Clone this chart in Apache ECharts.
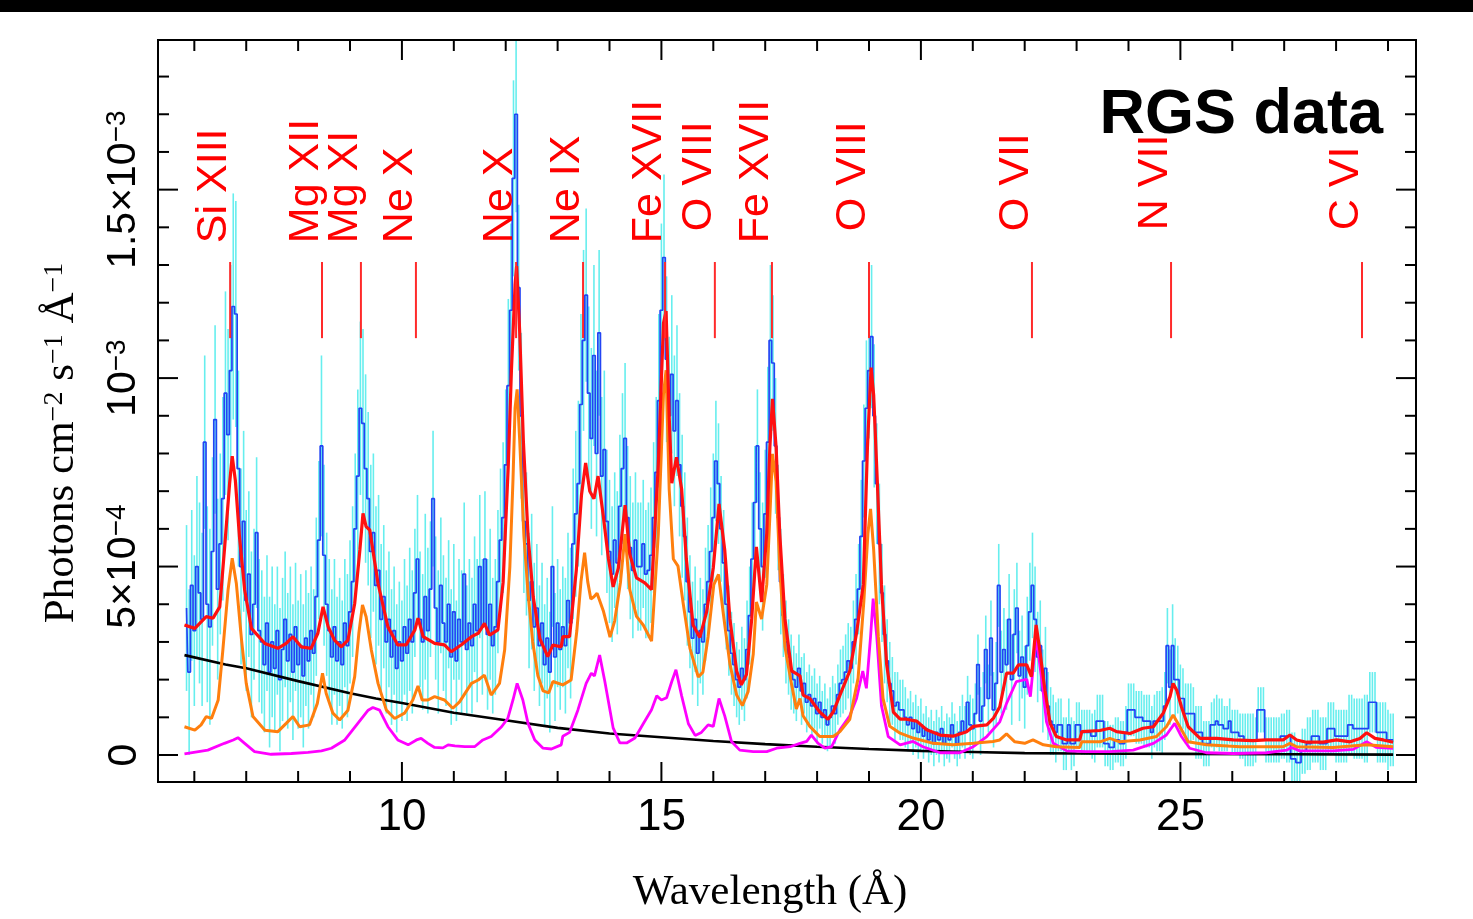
<!DOCTYPE html>
<html>
<head>
<meta charset="utf-8">
<script src="https://cdn.jsdelivr.net/npm/echarts@6/dist/echarts.min.js"></script>
<style>
  html, body { margin: 0; padding: 0; background: #ffffff; }
  #chart { width: 1473px; height: 919px; }
</style>
</head>
<body>
<div id="chart"></div>
<script>
// ---------------------------------------------------------------
// RGS spectrum: binned flux, error bars, fitted model and its parts.
// Flux units are 1e-4 photons cm^-2 s^-1 Å^-1, wavelength in Å.
// ---------------------------------------------------------------

// Binned data: first bin centre and bin width (Å)
const fluxStart = 5.85;
const fluxBin = 0.05;

// Observed flux per bin (one row = 1 Å)
const flux = [
  3.9,2.2,4.5,3.3,5.0,4.3,3.6,8.3,4.0,3.4,5.4,8.9,4.4,5.6,6.8,9.6,8.5,10.2,11.9,11.7,
  7.6,5.0,6.2,4.1,4.8,3.2,4.0,5.9,3.3,3.0,2.4,3.5,2.2,3.0,2.3,3.3,2.0,2.8,3.6,2.5,
  3.2,2.2,3.4,2.4,2.9,2.1,3.1,2.5,3.3,2.7,4.2,5.7,8.2,5.3,4.0,3.3,2.6,3.4,2.5,3.0,
  2.4,3.5,2.9,3.8,4.6,6.0,7.4,9.2,8.8,7.6,6.8,5.4,5.9,4.5,4.9,3.6,4.2,3.0,3.6,2.6,
  3.3,2.3,3.0,2.5,3.4,2.7,3.6,3.0,4.3,5.2,3.6,3.0,4.2,3.3,4.4,6.8,3.9,3.0,4.5,3.5,
  3.0,4.0,2.6,3.8,2.5,3.6,3.0,4.8,2.8,3.5,2.9,4.0,3.3,5.0,3.4,5.2,3.2,4.0,2.9,3.4,
  4.6,5.7,6.3,7.7,9.8,11.8,15.3,17.0,12.4,9.0,6.2,5.6,4.1,4.6,3.4,3.9,2.9,3.5,2.4,3.1,
  2.2,5.0,2.6,3.5,2.8,3.4,2.9,4.1,3.5,5.6,6.4,7.2,9.3,11.0,12.2,9.6,8.4,10.6,8.0,11.2,
  7.4,8.1,6.2,5.4,4.8,5.7,5.1,6.6,7.6,8.4,6.3,5.5,4.9,5.7,5.0,5.0,5.6,4.8,4.9,5.3,
  6.3,7.5,9.4,11.8,13.2,10.5,9.0,10.1,8.6,9.4,7.7,6.6,5.8,4.6,3.8,3.1,3.6,2.7,3.3,3.0,
  4.0,4.6,5.4,6.3,7.8,7.2,6.0,5.1,4.0,3.3,2.7,2.4,2.0,1.8,2.3,2.0,2.8,3.7,5.2,6.7,
  8.2,6.0,5.0,6.4,8.3,11.0,10.4,8.2,6.3,4.6,3.7,3.0,2.6,2.2,2.0,1.8,2.3,1.7,1.9,1.4,
  1.6,1.3,1.5,1.1,1.4,1.0,1.2,0.8,1.0,1.3,1.1,1.6,1.9,2.0,2.2,2.5,2.3,3.0,3.6,4.4,
  5.8,7.8,9.2,10.2,11.1,9.0,7.2,5.6,4.3,3.2,2.5,1.9,1.7,1.3,1.4,1.2,1.2,1.0,0.8,1.0,
  0.7,0.9,0.6,0.8,0.5,0.7,0.4,0.6,0.3,0.6,0.4,0.7,0.3,0.5,0.4,0.8,0.5,0.3,0.6,0.9,
  0.6,1.4,0.8,0.7,1.1,2.4,0.9,1.3,2.8,1.5,3.1,1.2,1.9,4.5,2.2,2.8,2.4,3.6,2.0,3.2,
  3.9,2.1,2.6,1.8,2.9,3.8,4.5,3.6,2.6,2.9,1.7,2.3,1.3,0.9,0.8,0.6,0.8,0.8,0.3,0.3,
  0.8,0.3,0.3,0.8,0.8,0.6,0.6,0.6,0.6,0.5,0.5,0.9,0.9,0.9,0.3,0.3,0.2,0.2,0.4,0.4,
  0.3,0.3,0.6,1.2,1.2,1.2,1.0,1.0,1.0,0.9,0.9,0.9,0.6,0.9,0.9,0.9,0.9,1.3,2.9,1.8,
  2.9,2.0,2.0,1.5,1.5,1.1,1.1,1.1,1.1,0.6,0.6,0.6,0.3,0.3,0.3,0.8,0.8,0.9,0.8,0.8,
  0.7,0.7,0.9,0.6,0.6,0.6,0.5,0.5,0.4,0.4,0.4,0.4,0.4,1.2,1.2,1.2,0.4,0.4,0.4,0.4,
  0.4,0.4,0.5,0.5,0.5,0.5,-0.1,-0.1,-0.2,-0.2,0.1,0.1,0.3,0.3,0.5,0.5,0.5,0.3,0.3,0.3,
  0.7,0.7,0.7,0.5,0.5,0.5,0.5,0.5,0.8,0.8,0.7,0.7,0.7,0.7,0.7,0.7,1.4,1.4,1.4,0.6,
  0.6,0.6,0.6,0.4,0.4,0.4
];

// 1-sigma flux error, one value per pair of bins (one row = 1 Å)
const fluxErr = [
  2.2,2.0,2.4,2.3,2.6,2.5,2.4,2.7,2.8,3.0,
  2.6,2.4,2.2,2.0,1.9,1.8,2.0,1.7,1.9,1.8,
  1.8,1.7,1.9,1.8,1.7,2.1,2.4,1.9,1.8,1.7,
  1.7,1.9,2.0,2.3,2.5,2.3,2.1,2.0,1.9,1.8,
  1.7,1.6,1.8,1.9,1.7,1.8,2.2,1.8,1.9,1.8,
  1.7,1.8,1.6,1.9,1.7,1.8,1.9,1.8,2.0,1.8,
  1.9,2.0,2.3,2.6,2.2,1.9,1.8,1.7,1.6,1.6,
  1.6,1.7,1.6,1.8,2.0,2.2,2.4,2.3,2.4,2.2,
  2.1,1.9,1.8,1.9,2.0,1.9,1.8,1.7,1.7,1.8,
  2.0,2.3,2.2,2.1,2.0,1.9,1.7,1.5,1.4,1.4,
  1.5,1.7,1.6,1.4,1.2,1.1,1.0,1.1,1.3,1.5,
  1.5,1.7,2.0,1.8,1.4,1.1,1.0,0.9,0.9,0.8,
  0.8,0.8,0.7,0.7,0.8,0.8,0.9,1.0,1.1,1.2,
  1.5,1.8,1.9,1.6,1.3,1.1,0.9,0.8,0.8,0.7,
  0.7,0.7,0.6,0.6,0.6,0.6,0.6,0.6,0.6,0.7,
  0.7,0.8,0.8,0.9,0.9,1.0,1.1,1.1,1.2,1.2,
  1.2,1.1,1.3,1.4,1.2,1.1,0.9,0.8,0.7,0.7,
  0.7,0.6,0.6,0.6,0.6,0.7,0.7,0.6,0.6,0.6,
  0.6,0.7,0.7,0.7,0.7,0.7,0.7,0.8,0.9,1.0,
  1.1,0.9,0.8,0.8,0.7,0.7,0.6,0.6,0.7,0.7,
  0.6,0.6,0.6,0.6,0.7,0.7,0.6,0.6,0.6,0.6,
  0.6,0.6,0.7,0.7,0.6,0.6,0.7,0.7,0.7,0.7,
  0.7,0.7,0.7,0.7,0.8,0.8,0.8,0.9,0.8,0.8,
  0.8,0.8,0.7
];

// Total fitted model [Å, flux]
const modelTotal = [
  [5.81,3.45],[6.01,3.36],[6.23,3.67],[6.36,3.63],[6.49,3.93],[6.58,5.44],[6.68,7.21],[6.73,7.93],
  [6.79,7.29],[6.87,5.79],[6.97,4.38],[7.10,3.36],[7.36,2.96],[7.61,2.83],[7.77,2.96],[7.90,3.14],
  [8.06,2.87],[8.25,2.83],[8.38,3.23],[8.48,3.93],[8.58,3.40],[8.70,3.05],[8.83,2.87],[8.96,3.05],
  [9.09,4.02],[9.19,5.44],[9.25,6.41],[9.31,6.06],[9.38,5.97],[9.54,4.55],[9.73,3.40],[9.92,2.92],
  [10.08,2.92],[10.25,3.32],[10.31,3.63],[10.41,3.14],[10.63,2.96],[10.82,2.92],[10.95,2.74],[11.14,2.92],
  [11.34,3.14],[11.47,3.23],[11.59,3.49],[11.69,3.18],[11.85,3.32],[11.95,4.58],[12.05,7.70],[12.11,10.2],
  [12.18,12.47],[12.21,12.97],[12.27,11.21],[12.34,8.33],[12.43,5.83],[12.53,4.19],[12.66,3.08],[12.81,2.61],
  [12.91,2.92],[13.07,2.87],[13.10,3.14],[13.23,3.14],[13.36,4.90],[13.46,6.90],[13.54,7.75],[13.62,7.00],
  [13.70,6.80],[13.78,7.40],[13.88,6.34],[13.98,5.20],[14.07,4.46],[14.17,4.96],[14.30,6.63],[14.39,5.33],
  [14.52,4.70],[14.68,4.57],[14.81,4.39],[14.94,7.70],[15.04,11.46],[15.09,11.78],[15.15,8.97],[15.20,7.21],
  [15.29,7.90],[15.39,7.05],[15.48,5.20],[15.61,3.45],[15.74,3.12],[15.87,3.79],[16.00,4.97],[16.11,6.66],
  [16.22,5.44],[16.32,3.61],[16.45,2.23],[16.54,1.86],[16.64,2.14],[16.74,3.61],[16.83,5.52],[16.93,4.06],
  [17.03,5.89],[17.09,8.17],[17.14,9.45],[17.21,8.17],[17.28,5.89],[17.38,3.61],[17.51,2.23],[17.67,2.10],
  [17.73,1.59],[17.86,1.50],[18.05,1.14],[18.21,0.95],[18.31,1.14],[18.44,1.59],[18.63,2.23],[18.76,3.24],
  [18.89,4.52],[18.97,8.17],[19.04,10.28],[19.09,9.55],[19.16,7.26],[19.24,4.52],[19.34,2.41],[19.47,1.14],
  [19.60,0.95],[19.72,0.95],[19.92,0.90],[20.11,0.67],[20.37,0.53],[20.62,0.50],[20.88,0.62],[21.01,0.76],
  [21.27,0.80],[21.40,0.98],[21.52,1.28],[21.65,2.17],[21.78,2.17],[21.88,2.39],[22.04,2.39],[22.13,2.08],
  [22.22,3.45],[22.29,2.79],[22.39,1.72],[22.49,0.84],[22.61,0.49],[22.81,0.40],[23.06,0.40],[23.10,0.62],
  [23.45,0.65],[23.64,0.71],[23.77,0.62],[24.03,0.57],[24.28,0.71],[24.48,0.75],[24.67,1.11],[24.80,1.55],
  [24.86,1.90],[24.93,1.72],[25.02,1.28],[25.15,0.75],[25.38,0.44],[25.70,0.44],[26.02,0.40],[26.40,0.38],
  [26.66,0.40],[26.98,0.40],[27.11,0.53],[27.24,0.40],[27.43,0.34],[27.75,0.34],[28.01,0.40],[28.27,0.35],
  [28.46,0.44],[28.59,0.59],[28.75,0.44],[28.91,0.40],[29.10,0.34]
];

// Hot emission component [Å, flux]
const modelHot = [
  [5.81,0.75],[6.01,0.66],[6.13,0.80],[6.23,1.02],[6.33,0.97],[6.46,1.46],[6.55,2.79],[6.65,4.38],
  [6.73,5.22],[6.81,4.55],[6.91,3.05],[7.00,1.90],[7.13,1.02],[7.36,0.66],[7.61,0.62],[7.77,0.84],
  [7.90,1.02],[8.03,0.75],[8.22,0.80],[8.37,1.37],[8.47,2.17],[8.54,1.64],[8.67,1.11],[8.80,0.93],
  [8.96,1.19],[9.09,2.08],[9.17,3.23],[9.24,3.98],[9.31,3.67],[9.41,2.79],[9.54,1.90],[9.70,1.19],
  [9.86,0.97],[10.05,1.11],[10.21,1.46],[10.31,1.83],[10.39,1.46],[10.50,1.46],[10.63,1.55],[10.82,1.46],
  [10.98,1.24],[11.11,1.41],[11.34,1.90],[11.47,1.99],[11.59,2.12],[11.72,1.59],[11.88,1.90],[11.98,2.79],
  [12.08,5.00],[12.14,7.30],[12.18,9.20],[12.22,9.70],[12.27,8.33],[12.35,5.83],[12.43,4.30],[12.52,3.00],
  [12.62,2.10],[12.72,1.70],[12.83,1.65],[12.91,1.95],[13.10,1.86],[13.26,1.99],[13.37,3.29],[13.45,4.60],
  [13.52,5.37],[13.58,4.60],[13.64,4.14],[13.70,4.20],[13.76,4.29],[13.88,3.83],[14.01,3.13],[14.10,3.56],
  [14.21,4.57],[14.30,5.86],[14.39,4.39],[14.52,3.68],[14.65,3.45],[14.81,3.02],[14.94,5.86],[15.04,9.58],
  [15.09,10.21],[15.15,7.05],[15.23,5.20],[15.32,5.01],[15.42,4.02],[15.55,2.83],[15.71,2.07],[15.80,2.20],
  [15.90,3.14],[16.01,4.52],[16.10,4.79],[16.19,3.78],[16.32,2.41],[16.45,1.59],[16.56,1.31],[16.67,1.68],
  [16.77,2.68],[16.83,4.06],[16.93,3.61],[17.03,4.52],[17.09,6.34],[17.14,7.99],[17.21,7.26],[17.28,4.97],
  [17.38,2.87],[17.51,1.86],[17.60,1.22],[17.67,1.50],[17.73,1.04],[17.86,0.76],[18.05,0.49],[18.31,0.49],
  [18.44,0.62],[18.63,0.95],[18.79,2.04],[18.90,4.06],[18.98,5.89],[19.03,6.53],[19.09,5.44],[19.18,3.14],
  [19.27,1.50],[19.40,0.76],[19.60,0.58],[19.85,0.45],[20.24,0.31],[20.62,0.27],[21.01,0.31],[21.39,0.36],
  [21.52,0.40],[21.65,0.56],[21.81,0.35],[22.00,0.31],[22.16,0.40],[22.36,0.27],[22.61,0.22],[23.06,0.20],
  [23.10,0.35],[23.45,0.35],[23.64,0.44],[23.83,0.35],[24.22,0.40],[24.54,0.49],[24.73,0.75],[24.86,1.06],
  [24.99,0.75],[25.15,0.35],[25.50,0.27],[26.15,0.22],[26.98,0.22],[27.11,0.31],[27.24,0.22],[27.94,0.20],
  [28.59,0.27],[29.10,0.22]
];

// Cool emission component [Å, flux]
const modelCool = [
  [5.81,0.03],[6.26,0.13],[6.58,0.31],[6.75,0.40],[6.84,0.46],[6.97,0.31],[7.16,0.09],[7.48,0.02],
  [7.87,0.04],[8.19,0.07],[8.45,0.11],[8.64,0.18],[8.90,0.40],[9.15,0.84],[9.35,1.19],[9.44,1.26],
  [9.57,1.19],[9.73,0.75],[9.92,0.40],[10.12,0.27],[10.28,0.40],[10.37,0.44],[10.50,0.31],[10.63,0.20],
  [10.79,0.19],[10.89,0.27],[11.02,0.24],[11.21,0.22],[11.40,0.22],[11.56,0.40],[11.72,0.49],[11.92,0.75],
  [12.04,0.97],[12.14,1.46],[12.22,1.90],[12.33,1.46],[12.43,0.84],[12.56,0.40],[12.72,0.18],[12.88,0.16],
  [13.07,0.27],[13.10,0.50],[13.23,0.60],[13.39,1.19],[13.55,1.90],[13.65,2.17],[13.71,2.10],[13.81,2.65],
  [13.91,1.95],[14.07,0.72],[14.20,0.32],[14.33,0.32],[14.49,0.45],[14.65,0.83],[14.81,1.20],[14.91,1.57],
  [15.00,1.46],[15.10,1.52],[15.20,1.95],[15.28,2.26],[15.39,1.57],[15.52,0.83],[15.65,0.52],[15.77,0.60],
  [15.90,0.80],[16.00,0.76],[16.11,1.50],[16.22,1.04],[16.35,0.36],[16.51,0.13],[16.77,0.09],[17.03,0.09],
  [17.22,0.18],[17.48,0.22],[17.67,0.31],[17.80,0.36],[17.89,0.53],[18.02,0.31],[18.15,0.18],[18.28,0.22],
  [18.44,0.67],[18.63,1.04],[18.76,1.50],[18.88,2.23],[18.95,1.77],[19.03,3.14],[19.08,4.15],[19.15,3.14],
  [19.24,1.31],[19.37,0.49],[19.60,0.27],[19.85,0.36],[20.04,0.22],[20.37,0.06],[20.75,0.06],[21.01,0.22],
  [21.27,0.49],[21.52,0.88],[21.65,1.37],[21.84,1.95],[22.04,2.01],[22.11,1.55],[22.22,3.14],[22.33,1.99],
  [22.42,0.88],[22.55,0.31],[22.81,0.11],[23.19,0.09],[23.64,0.09],[24.09,0.13],[24.48,0.31],[24.73,0.53],
  [24.89,0.84],[25.02,0.49],[25.18,0.18],[25.50,0.06],[26.02,0.04],[26.66,0.06],[27.05,0.13],[27.14,0.20],
  [27.30,0.11],[27.94,0.11],[28.33,0.15],[28.59,0.35],[28.78,0.20],[29.10,0.18]
];

// Continuum component [Å, flux]
const modelContinuum = [
  [5.81,2.65],[6.60,2.40],[7.00,2.30],[8.00,1.96],[9.00,1.64],[9.50,1.50],[10.00,1.38],[11.00,1.12],
  [12.00,0.92],[13.00,0.72],[14.00,0.57],[15.00,0.47],[16.00,0.37],[17.00,0.29],[18.00,0.22],[19.00,0.16],
  [20.00,0.11],[21.00,0.08],[22.00,0.05],[23.00,0.04],[25.00,0.03],[27.00,0.02],[29.10,0.01]
];

// Identified emission lines
const lineWave  = [6.69, 8.46, 9.21, 10.27, 12.20, 13.49, 15.07, 16.03, 17.13, 19.00, 22.14, 24.82, 28.50];
const lineLabel = ['Si XIII','Mg XII','Mg XI','Ne X','Ne X','Ne IX','Fe XVII','O VIII','Fe XVII','O VIII','O VII','N VII','C VI'];

// Axis ticks
const xMajorTicks = [10, 15, 20, 25];
const xMinorTicks = [6,7,8,9,10,11,12,13,14,15,16,17,18,19,20,21,22,23,24,25,26,27,28,29];
const yMajorTicks = [0, 5, 10, 15];
const yMinorTicks = [0,1,2,3,4,5,6,7,8,9,10,11,12,13,14,15,16,17,18];
const yTickText = ['0', '{m|5×10}{s|−4}', '{m|10}{s|−3}', '{m|1.5×10}{s|−3}'];

// ---------------------------------------------------------------
// Layout / style constants
// ---------------------------------------------------------------
const X_MIN = 5.30, X_MAX = 29.54;
const Y_MIN = -0.716, Y_MAX = 18.97;
const MARK_LOW = 11.06, MARK_HIGH = 13.08;   // marker tick extent (flux units)
const LABEL_BASE = 13.58;                      // where the line names start
const labelRaise = [0,0,0,0,0,0,0,12,0,12,12,13,13]; // px shift of some names
const SANS = '"Liberation Sans", Arial, Helvetica, sans-serif';
const SERIF = '"Liberation Serif", "Times New Roman", serif';
const TICK_MINOR = 11, TICK_MAJOR = 20;

// Derived series data
const binCentre = i => +(fluxStart + i * fluxBin).toFixed(2);
const dataPoints = flux.map((v, i) => [binCentre(i), v]);
const errPoints = flux.map((v, i) => [binCentre(i), v, fluxErr[Math.floor(i / 2)]]);
const linePoints = lineWave.map((w, i) => [w, i]);

const chart = echarts.init(document.getElementById('chart'), null, { renderer: 'canvas' });

const option = {
  animation: false,
  backgroundColor: '#ffffff',
  grid: { left: 158, right: 57, top: 40, bottom: 137, containLabel: false },
  xAxis: {
    type: 'value', min: X_MIN, max: X_MAX,
    axisLine: { show: true, onZero: false, lineStyle: { color: '#000', width: 2 } },
    axisTick: { show: false },
    axisLabel: { customValues: xMajorTicks, color: '#000', fontFamily: SANS, fontSize: 44, margin: 14 },
    splitLine: { show: false }
  },
  yAxis: {
    type: 'value', min: Y_MIN, max: Y_MAX,
    axisLine: { show: true, onZero: false, lineStyle: { color: '#000', width: 2 } },
    axisTick: { show: false },
    axisLabel: {
      customValues: yMajorTicks, rotate: 90, margin: 13, color: '#000',
      fontFamily: SANS, fontSize: 41,
      formatter: v => yTickText[yMajorTicks.indexOf(Math.round(v))],
      rich: {
        m: { fontFamily: SANS, fontSize: 41, color: '#000' },
        s: { fontFamily: SANS, fontSize: 28, color: '#000', verticalAlign: 'top', padding: [0, 0, 14, 0] }
      }
    },
    splitLine: { show: false }
  },
  graphic: [
    { type: 'rect', left: 0, top: 0, shape: { width: 1473, height: 12 }, style: { fill: '#000' }, z: 100 },
    {
      type: 'text', x: 62, y: 443, rotation: Math.PI / 2, z: 100,
      style: {
        text: '{a|Photons cm}{s|−2}{a| s}{s|−1}{a| Å}{s|−1}',
        align: 'center', verticalAlign: 'middle',
        rich: {
          a: { fontFamily: SERIF, fontSize: 43, fill: '#000' },
          s: { fontFamily: SERIF, fontSize: 28, fill: '#000', verticalAlign: 'top', padding: [0, 0, 14, 0] }
        }
      }
    },
    {
      type: 'text', x: 770, y: 893, z: 100,
      style: { text: 'Wavelength (Å)', fontFamily: SERIF, fontSize: 43, fill: '#000', align: 'center', verticalAlign: 'middle' }
    },
    {
      type: 'text', x: 1383, y: 116, z: 100,
      style: { text: 'RGS data', fontFamily: SANS, fontSize: 63, fontWeight: 'bold', fill: '#000', align: 'right', verticalAlign: 'middle' }
    }
  ],
  series: [
    {
      name: 'errors', type: 'custom', z: 1, clip: true,
      data: errPoints,
      renderItem: (params, api) => {
        const x = api.value(0), v = api.value(1), e = api.value(2);
        const p1 = api.coord([x, v - e]);
        const p2 = api.coord([x, v + e]);
        return { type: 'line', shape: { x1: p1[0], y1: p1[1], x2: p2[0], y2: p2[1] },
                 style: { stroke: '#66eeee', lineWidth: 1.6 } };
      }
    },
    {
      name: 'data', type: 'line', z: 2, step: 'middle', showSymbol: false, data: dataPoints,
      lineStyle: { color: '#2244f4', width: 1.7 }
    },
    {
      name: 'continuum', type: 'line', z: 3, showSymbol: false, data: modelContinuum,
      lineStyle: { color: '#000000', width: 2.6 }
    },
    {
      name: 'cool', type: 'line', z: 4, showSymbol: false, data: modelCool,
      lineStyle: { color: '#ff00ff', width: 2.8 }
    },
    {
      name: 'hot', type: 'line', z: 5, showSymbol: false, data: modelHot,
      lineStyle: { color: '#ff7f0e', width: 3 }
    },
    {
      name: 'model', type: 'line', z: 6, showSymbol: false, data: modelTotal,
      lineStyle: { color: '#ff1010', width: 3.2 }
    },
    {
      name: 'lines', type: 'custom', z: 7, clip: false,
      data: linePoints,
      renderItem: (params, api) => {
        const i = params.dataIndex;
        const w = api.value(0);
        const top = api.coord([w, MARK_HIGH]);
        const bot = api.coord([w, MARK_LOW]);
        const lab = api.coord([w, LABEL_BASE]);
        return {
          type: 'group',
          children: [
            { type: 'line', shape: { x1: top[0], y1: top[1], x2: bot[0], y2: bot[1] },
              style: { stroke: '#ff2a2a', lineWidth: 2 } },
            { type: 'text', x: lab[0] + 6, y: lab[1] - labelRaise[i], rotation: Math.PI / 2,
              style: { text: lineLabel[i], fill: '#ff0000', fontFamily: SANS, fontSize: 43,
                       align: 'left', verticalAlign: 'bottom' } }
          ]
        };
      }
    },
    {
      // plot frame with inward ticks on all four sides, placed through the axis scales
      name: 'frame', type: 'custom', z: 9, clip: false, silent: true,
      data: [[X_MIN, Y_MIN]],
      renderItem: (params, api) => {
        const bl = api.coord([X_MIN, Y_MIN]);
        const tr = api.coord([X_MAX, Y_MAX]);
        const xl = bl[0], yb = bl[1], xr = tr[0], yt = tr[1];
        const children = [
          { type: 'rect', shape: { x: xl, y: yt, width: xr - xl, height: yb - yt },
            style: { fill: null, stroke: '#000000', lineWidth: 2 } }
        ];
        xMinorTicks.forEach(t => {
          const px = api.coord([t, Y_MIN])[0];
          const len = xMajorTicks.indexOf(t) >= 0 ? TICK_MAJOR : TICK_MINOR;
          children.push({ type: 'rect', shape: { x: px - 1, y: yb - len, width: 2, height: len }, style: { fill: '#000000' } });
          children.push({ type: 'rect', shape: { x: px - 1, y: yt, width: 2, height: len }, style: { fill: '#000000' } });
        });
        yMinorTicks.forEach(v => {
          const py = api.coord([X_MIN, v])[1];
          const len = yMajorTicks.indexOf(v) >= 0 ? TICK_MAJOR : TICK_MINOR;
          children.push({ type: 'rect', shape: { x: xl, y: py - 1, width: len, height: 2 }, style: { fill: '#000000' } });
          children.push({ type: 'rect', shape: { x: xr - len, y: py - 1, width: len, height: 2 }, style: { fill: '#000000' } });
        });
        return { type: 'group', children };
      }
    }
  ]
};

chart.setOption(option);
</script>
</body>
</html>
